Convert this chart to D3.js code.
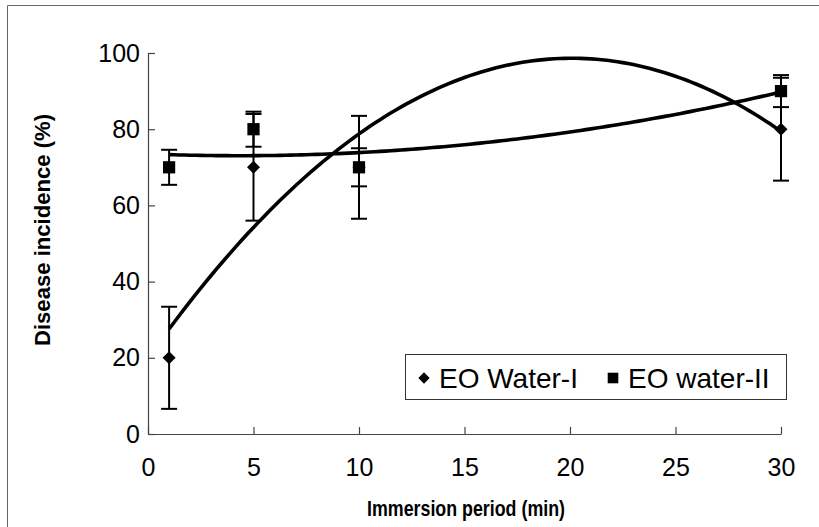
<!DOCTYPE html>
<html>
<head>
<meta charset="utf-8">
<script src="https://cdn.jsdelivr.net/npm/d3@7"></script>
<style>
  body { margin: 0; background: #fff; }
  text { font-family: "Liberation Sans", Arial, sans-serif; }
</style>
</head>
<body>
<div id="viz"></div>
<script>
// data
const periods = [1, 5, 10, 30];
const waterI = [20, 70, 70, 80];
const errI = [13.4, 14, 13.5, 13.5];
const waterII = [70, 80, 70, 90];
const errII = [4.6, 4.6, 5, 4.2];
const xTicks = [0, 5, 10, 15, 20, 25, 30];
const yTicks = [0, 20, 40, 60, 80, 100];
const legendLabels = ["EO Water-I", "EO water-II"];

const outerWidth = 819, outerHeight = 527;
const plot = {left: 148, right: 781, top: 53, bottom: 434};

// least squares quadratic fit (Excel style polynomial trendline)
function polyFit2(xs, ys) {
    let s = [0, 0, 0, 0, 0], t = [0, 0, 0];
    xs.forEach((x, i) => {
        for (let k = 0; k < 5; k++) s[k] += Math.pow(x, k);
        for (let k = 0; k < 3; k++) t[k] += Math.pow(x, k) * ys[i];
    });
    const M = [[s[0], s[1], s[2], t[0]], [s[1], s[2], s[3], t[1]], [s[2], s[3], s[4], t[2]]];
    for (let i = 0; i < 3; i++) {
        for (let j = i + 1; j < 3; j++) {
            const f = M[j][i] / M[i][i];
            for (let k = i; k < 4; k++) M[j][k] -= f * M[i][k];
        }
    }
    const c = [0, 0, 0];
    for (let i = 2; i >= 0; i--) {
        let v = M[i][3];
        for (let k = i + 1; k < 3; k++) v -= M[i][k] * c[k];
        c[i] = v / M[i][i];
    }
    return x => c[0] + c[1] * x + c[2] * x * x;
}

const svg = d3.select("#viz").append("svg")
    .attr("width", outerWidth)
    .attr("height", outerHeight);

// outer frame (left and top edges visible)
svg.append("path")
    .attr("d", "M7.5," + outerHeight + "V5.5H" + outerWidth)
    .attr("fill", "none")
    .attr("stroke", "#666")
    .attr("stroke-width", 1);

const x = d3.scaleLinear().domain([0, 30]).range([plot.left, plot.right]);
const y = d3.scaleLinear().domain([0, 100]).range([plot.bottom, plot.top]);

// axes, ticks pointing inward
const gx = svg.append("g")
    .attr("transform", "translate(0," + plot.bottom + ")")
    .call(d3.axisBottom(x).tickValues(xTicks).tickSizeInner(-7).tickSizeOuter(0).tickPadding(24));
const gy = svg.append("g")
    .attr("transform", "translate(" + plot.left + ",0)")
    .call(d3.axisLeft(y).tickValues(yTicks).tickSizeInner(-7).tickSizeOuter(0).tickPadding(8));

[gx, gy].forEach(g => {
    g.select(".domain").attr("stroke", "#444").attr("stroke-width", 1.2);
    g.selectAll(".tick line").attr("stroke", "#444").attr("stroke-width", 1.2);
    g.selectAll(".tick text")
        .attr("font-size", 25)
        .attr("font-family", "Liberation Sans, Arial, sans-serif")
        .attr("fill", "#000");
});
gx.selectAll(".tick text").attr("dy", "0.71em");

// axis titles
svg.append("text")
    .attr("x", 466).attr("y", 516)
    .attr("text-anchor", "middle")
    .attr("font-size", 22).attr("font-weight", "bold")
    .attr("textLength", 198).attr("lengthAdjust", "spacingAndGlyphs")
    .text("Immersion period (min)");

svg.append("text")
    .attr("transform", "translate(50,230) rotate(-90)")
    .attr("text-anchor", "middle")
    .attr("font-size", 22).attr("font-weight", "bold")
    .attr("textLength", 232).attr("lengthAdjust", "spacingAndGlyphs")
    .text("Disease incidence (%)");

// series; diamond = square turned 45 degrees
const series = [
    {vals: waterI, err: errI, shape: d3.symbolSquare, size: 85, rot: 45},
    {vals: waterII, err: errII, shape: d3.symbolSquare, size: 150, rot: 0}
];

const line = d3.line().x(d => x(d[0])).y(d => y(d[1]));
const capW = 8;

series.forEach(s => {
    const rows = periods.map((p, i) => ({p: p, v: s.vals[i], e: s.err[i]}));

    // error bars
    const eb = svg.append("g").selectAll("g").data(rows).enter().append("g")
        .attr("stroke", "#000").attr("stroke-width", 2);
    eb.append("line")
        .attr("x1", d => x(d.p)).attr("x2", d => x(d.p))
        .attr("y1", d => y(d.v - d.e)).attr("y2", d => y(d.v + d.e));
    eb.append("line")
        .attr("x1", d => x(d.p) - capW).attr("x2", d => x(d.p) + capW)
        .attr("y1", d => y(d.v + d.e)).attr("y2", d => y(d.v + d.e));
    eb.append("line")
        .attr("x1", d => x(d.p) - capW).attr("x2", d => x(d.p) + capW)
        .attr("y1", d => y(d.v - d.e)).attr("y2", d => y(d.v - d.e));

    // markers
    svg.append("g").selectAll("path").data(rows).enter().append("path")
        .attr("transform", d => "translate(" + x(d.p) + "," + y(d.v) + ") rotate(" + s.rot + ")")
        .attr("d", d3.symbol().type(s.shape).size(s.size))
        .attr("fill", "#000");

    // polynomial trendline
    const f = polyFit2(periods, s.vals);
    const pts = d3.range(1, 30.01, 0.25).map(t => [t, f(t)]);
    svg.append("path")
        .attr("d", line(pts))
        .attr("fill", "none")
        .attr("stroke", "#000")
        .attr("stroke-width", 3.6);
});

// legend
const lg = svg.append("g");
lg.append("rect")
    .attr("x", 405.5).attr("y", 354.5)
    .attr("width", 381).attr("height", 45)
    .attr("fill", "#fff").attr("stroke", "#333").attr("stroke-width", 1);
const legendX = [424, 613];
legendLabels.forEach((lab, i) => {
    lg.append("path")
        .attr("transform", "translate(" + legendX[i] + ",378) rotate(" + series[i].rot + ")")
        .attr("d", d3.symbol().type(series[i].shape).size(series[i].size * 0.75))
        .attr("fill", "#000");
    lg.append("text")
        .attr("x", legendX[i] + 15).attr("y", 388)
        .attr("font-size", 28)
        .text(lab);
});
</script>
</body>
</html>
